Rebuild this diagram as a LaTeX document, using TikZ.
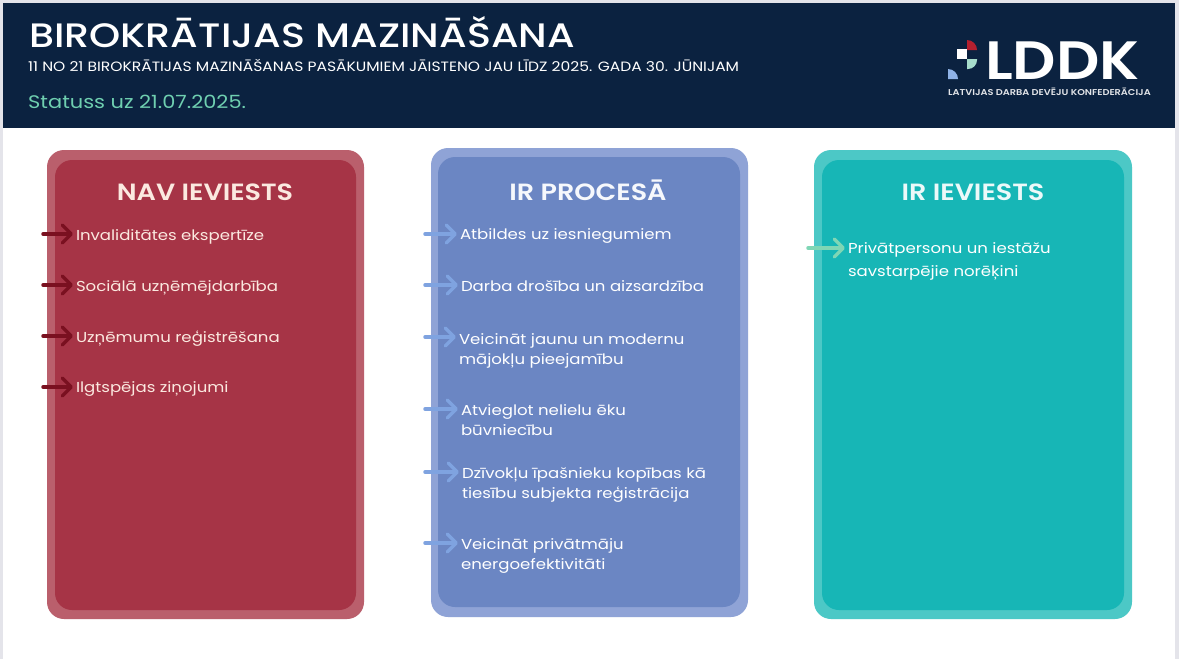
\documentclass[tikz,border=0pt]{standalone}
\usepackage{fontspec}
\setmainfont[FakeStretch=1.15]{Poppins}
\newfontfamily\medf[FakeStretch=1.17]{Poppins Medium}
\newfontfamily\semif[FakeStretch=1.15]{Poppins SemiBold}
\newfontfamily\logof[FakeStretch=1.12]{Poppins SemiBold}
\usetikzlibrary{arrows.meta}
\definecolor{navy}{HTML}{0B2240}
\definecolor{rimgray}{HTML}{E4E4EA}
\definecolor{redout}{HTML}{BA5F6C}
\definecolor{redin}{HTML}{A63446}
\definecolor{blueout}{HTML}{8FA3D6}
\definecolor{bluein}{HTML}{6B86C3}
\definecolor{tealout}{HTML}{4CC8C6}
\definecolor{tealin}{HTML}{17B6B6}
\definecolor{redarrow}{HTML}{7A1020}
\definecolor{bluearrow}{HTML}{7FA3E0}
\definecolor{greenarrow}{HTML}{7FD6B5}
\definecolor{mint}{HTML}{6FCFB0}
\definecolor{cream}{HTML}{FBE9E0}
\definecolor{logored}{HTML}{B5202F}
\definecolor{logoteal}{HTML}{A6DCCB}
\definecolor{logoblue}{HTML}{8FB2E6}
\tikzset{
  x=1pt,y=-1pt,
  item/.style={anchor=north west,inner sep=0pt,outer sep=0pt,align=left,font=\fontsize{14.4}{20}\selectfont,text=#1},
  head/.style={anchor=base,inner sep=0pt,font=\fontsize{23.5}{26}\selectfont\semif,text=#1},
  conn/.style={draw=#1,line width=3.5pt,line cap=round,line join=round,shorten >=3pt,-{Straight Barb[length=9pt,width=18pt,line width=3.5pt,round]}},
  panel/.style={fill=#1,rounded corners=17pt,draw=none},
  htext/.style={anchor=base west,inner sep=0pt,text=#1}
}
\begin{document}
\begin{tikzpicture}
\useasboundingbox (0,0) rectangle (1179,659);
\fill[white] (0,0) rectangle (1179,659);
\fill[rimgray] (0,0) rectangle (1179,3);
\fill[rimgray] (0,0) rectangle (3,659);
\fill[rimgray] (1175,0) rectangle (1179,659);
\fill[navy] (3,3) rectangle (1175,128);
% header
\node[htext=white,font=\fontsize{33.9}{36}\selectfont\medf] (title) at (29,47) {BIROKRĀTIJAS MAZINĀŠANA};
\node[htext=white,font=\fontsize{13.5}{15}\selectfont] (sub) at (28,71) {11 NO 21 BIROKRĀTIJAS MAZINĀŠANAS PASĀKUMIEM JĀISTENO JAU LĪDZ 2025. GADA 30. JŪNIJAM};
\node[htext=mint,font=\fontsize{18.2}{20}\selectfont] (status) at (28,108) {Statuss uz 21.07.2025.};
% logo
\fill[white] (957,49) rectangle (967,59);
\fill[logored] (967,40) -- (967,50) -- (977,50) arc[start angle=0,end angle=90,radius=10pt] -- cycle;
\fill[logoteal] (967,59) -- (977,59) -- (977,60) arc[start angle=0,end angle=-90,radius=9pt] -- (967,69) -- cycle;
\fill[logoblue] (948,79) -- (948,69) arc[start angle=90,end angle=0,radius=10pt] -- cycle;
\node[htext=white,font=\fontsize{54}{56}\selectfont\logof] (logo) at (985,79) {LDDK};
\node[htext=white!88!navy,font=\fontsize{8.5}{10}\selectfont\semif] (logosub) at (948,95) {LATVIJAS DARBA DEVĒJU KONFEDERĀCIJA};
% panels
\fill[panel=redout] (47,150) rectangle (364,619);
\fill[panel=redin] (55,160) rectangle (356,610);
\fill[panel=blueout] (431,148) rectangle (748,617);
\fill[panel=bluein] (438,157) rectangle (740,607);
\fill[panel=tealout] (814,150) rectangle (1132,619);
\fill[panel=tealin] (822,160) rectangle (1124,610);
% headings
\node[head=cream] (h1) at (205,200) {NAV IEVIESTS};
\node[head=white!92!blueout] (h2) at (588,200) {IR PROCESĀ};
\node[head=white!92!tealin] (h3) at (973,200) {IR IEVIESTS};
% red
\node[item=cream] (r1) at (76,230) {Invaliditātes ekspertīze};
\node[item=cream] (r2) at (76,281) {Sociālā uzņēmējdarbība};
\node[item=cream] (r3) at (76,331) {Uzņēmumu reģistrēšana};
\node[item=cream] (r4) at (76,382) {Ilgtspējas ziņojumi};
\foreach \n/\y in {1/234,2/285,3/336,4/387}{
  \coordinate (ra\n) at (43,\y);
  \draw[conn=redarrow] (ra\n) -- (ra\n -| r\n.west);
}
% blue
\node[item=white] (b1) at (460,229) {Atbildes uz iesniegumiem};
\node[item=white] (b2) at (461,281) {Darba drošība un aizsardzība};
\node[item=white] (b3) at (459,334) {Veicināt jaunu un modernu\\mājokļu pieejamību};
\node[item=white] (b4) at (461,405) {Atvieglot nelielu ēku\\būvniecību};
\node[item=white] (b5) at (462,468) {Dzīvokļu īpašnieku kopības kā\\tiesību subjekta reģistrācija};
\node[item=white] (b6) at (461,539) {Veicināt privātmāju\\energoefektivitāti};
\foreach \n/\y in {1/234,2/285,3/337,4/409,5/472,6/543}{
  \coordinate (ba\n) at (425,\y);
  \draw[conn=bluearrow] (ba\n) -- (ba\n -| b\n.west);
}
% teal
\node[item=white,font=\fontsize{14.4}{23}\selectfont] (t1) at (848,243) {Privātpersonu un iestāžu\\savstarpējie norēķini};
\coordinate (ta1) at (808,248);
\draw[conn=greenarrow] (ta1) -- (ta1 -| t1.west);
\end{tikzpicture}
\end{document}
